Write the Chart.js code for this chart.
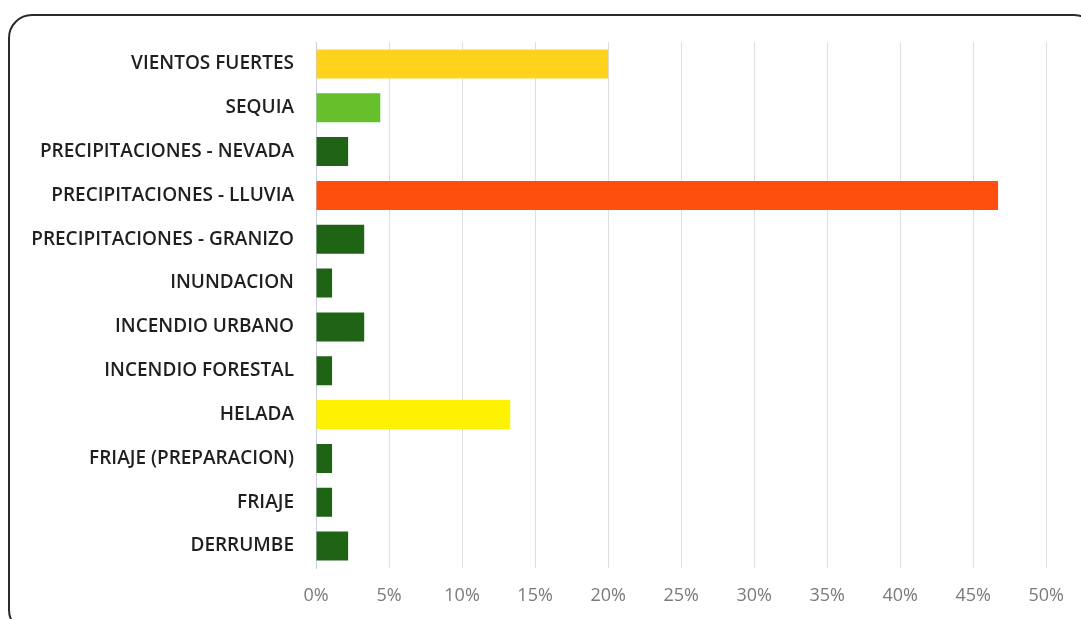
<!DOCTYPE html>
<html>
<head>
<meta charset="utf-8">
<script src="https://cdn.jsdelivr.net/npm/chart.js@4.4.0/dist/chart.umd.min.js"></script>
<style>
  html, body { margin: 0; padding: 0; background: #fff; overflow: hidden; }
  #frame {
    position: absolute; left: 8px; top: 14px; width: 1090px; height: 620px;
    border: 2px solid #2b2b2b; border-radius: 24px; box-sizing: border-box;
  }
  #wrap { position: absolute; left: 0; top: 0; width: 1081px; height: 619px; }
</style>
</head>
<body>
<div id="frame"></div>
<div id="wrap"><canvas id="myChart" width="1081" height="619"></canvas></div>
<script>
// eventos y porcentaje
const categories = [
  "VIENTOS FUERTES", "SEQUIA", "PRECIPITACIONES - NEVADA", "PRECIPITACIONES - LLUVIA",
  "PRECIPITACIONES - GRANIZO", "INUNDACION", "INCENDIO URBANO", "INCENDIO FORESTAL",
  "HELADA", "FRIAJE (PREPARACION)", "FRIAJE", "DERRUMBE"
];
const percents = [20.0, 4.4, 2.2, 46.7, 3.3, 1.1, 3.3, 1.1, 13.3, 1.1, 1.1, 2.2];
const barColors = [
  "#FFD21E", "#66C02C", "#1E6414", "#FF4F0C", "#1E6414", "#1E6414",
  "#1E6414", "#1E6414", "#FFF200", "#1E6414", "#1E6414", "#1E6414"
];
const xTicks = [0, 5, 10, 15, 20, 25, 30, 35, 40, 45, 50];

const ctx = document.getElementById('myChart');
new Chart(ctx, {
  type: 'bar',
  data: {
    labels: categories,
    datasets: [{
      data: percents,
      backgroundColor: barColors,
      borderWidth: 0,
      barPercentage: 0.66,
      categoryPercentage: 1.0
    }]
  },
  options: {
    indexAxis: 'y',
    responsive: false,
    animation: false,
    layout: { padding: { top: 42, right: 34, left: 0, bottom: 0 } },
    plugins: { legend: { display: false }, tooltip: { enabled: false } },
    scales: {
      x: {
        min: 0, max: 50,
        afterFit: (s) => { s.height = 51; },
        afterBuildTicks: (s) => { s.ticks = xTicks.map(v => ({ value: v })); },
        grid: { color: '#dedede', drawTicks: false },
        border: { display: false },
        ticks: {
          padding: 17,
          color: '#7a7a7a',
          font: { family: 'Open Sans', size: 18 },
          callback: (v) => v + '%'
        }
      },
      y: {
        afterFit: (s) => { s.width = 316; },
        grid: { display: false, drawTicks: false },
        border: { display: true, color: '#c9cfe0', width: 1 },
        ticks: {
          padding: 22,
          color: '#1f1f1f',
          font: { family: 'Open Sans', size: 19, weight: '600' }
        }
      }
    }
  }
});
</script>
</body>
</html>
